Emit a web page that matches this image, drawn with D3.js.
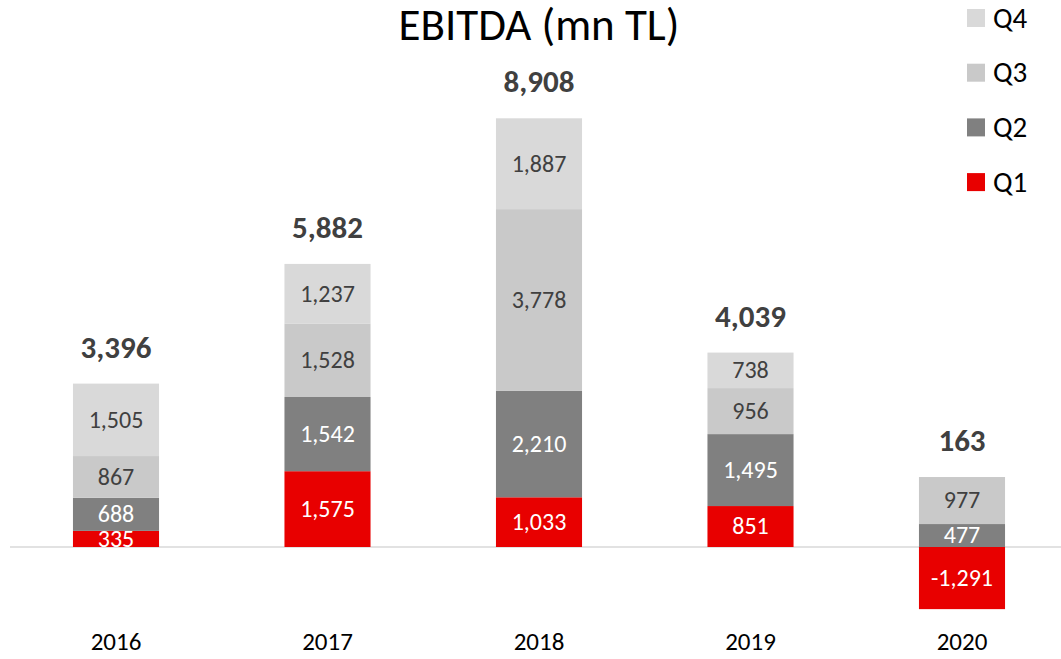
<!DOCTYPE html>
<html>
<head>
<meta charset="utf-8">
<script src="https://cdn.jsdelivr.net/npm/d3@7"></script>
<style>
  html, body { margin: 0; padding: 0; background: #fff; }
  svg { display: block; font-family: Carlito, Calibri, Lato, sans-serif; }
</style>
</head>
<body>
<svg id="chart" width="1061" height="659"></svg>
<script>
// Yearly EBITDA by quarter, million TL
const years = ["2016", "2017", "2018", "2019", "2020"];
const quarters = ["Q1", "Q2", "Q3", "Q4"];
const q1 = [335, 1575, 1033, 851, -1291];
const q2 = [688, 1542, 2210, 1495, 477];
const q3 = [867, 1528, 3778, 956, 977];
const q4 = [1505, 1237, 1887, 738, 0];
const totals = [3396, 5882, 8908, 4039, 163];
const colors = { Q1: "#e80000", Q2: "#808080", Q3: "#c9c9c9", Q4: "#d9d9d9" };
const labelColors = { Q1: "#ffffff", Q2: "#ffffff", Q3: "#404040", Q4: "#404040" };

const rows = years.map((y, i) => ({ year: y, Q1: q1[i], Q2: q2[i], Q3: q3[i], Q4: q4[i], total: totals[i] }));

const svg = d3.select("#chart");
const fmt = d3.format(",");

const x = d3.scaleBand()
  .domain(years)
  .range([10.25, 1067.75])
  .paddingInner(0.593)
  .paddingOuter(0.2965);

const y = d3.scaleLinear()
  .domain([0, 8908])
  .range([547, 118.3]);

const series = d3.stack()
  .keys(quarters)
  .offset(d3.stackOffsetDiverging)(rows);

// zero line
svg.append("line")
  .attr("x1", 10).attr("x2", 1061)
  .attr("y1", y(0)).attr("y2", y(0))
  .attr("stroke", "#d9d9d9")
  .attr("stroke-width", 1.5);

// stacked segments
const groups = svg.append("g").selectAll("g")
  .data(series)
  .join("g")
  .attr("fill", d => colors[d.key]);

groups.selectAll("rect")
  .data(d => d.filter(p => p.data[d.key] !== 0).map(p => ({ p, key: d.key })))
  .join("rect")
  .attr("x", d => x(d.p.data.year))
  .attr("width", x.bandwidth())
  .attr("y", d => y(Math.max(d.p[0], d.p[1])))
  .attr("height", d => Math.abs(y(d.p[0]) - y(d.p[1])));

// segment value labels
groups.selectAll("text")
  .data(d => d.filter(p => p.data[d.key] !== 0).map(p => ({ p, key: d.key })))
  .join("text")
  .attr("x", d => x(d.p.data.year) + x.bandwidth() / 2)
  .attr("y", d => (y(d.p[0]) + y(d.p[1])) / 2)
  .attr("dy", "0.33em")
  .attr("text-anchor", "middle")
  .attr("font-size", 24)
  .attr("fill", d => labelColors[d.key])
  .text(d => d3.format(",")(d.p.data[d.key]).replace("\u2212", "-"));

// year totals above each stack
const topOf = rows.map((r, i) => d3.max(series, s => s[i][1]));
svg.append("g").selectAll("text")
  .data(rows)
  .join("text")
  .attr("x", d => x(d.year) + x.bandwidth() / 2)
  .attr("y", (d, i) => y(topOf[i]) - 26)
  .attr("text-anchor", "middle")
  .attr("font-size", 31)
  .attr("font-weight", "bold")
  .attr("fill", "#404040")
  .text(d => fmt(d.total));

// category axis labels
svg.append("g").selectAll("text")
  .data(years)
  .join("text")
  .attr("x", d => x(d) + x.bandwidth() / 2)
  .attr("y", 650)
  .attr("text-anchor", "middle")
  .attr("font-size", 25)
  .attr("fill", "#000")
  .text(d => d);

// title
svg.append("text")
  .attr("x", 539)
  .attr("y", 40)
  .attr("text-anchor", "middle")
  .attr("font-size", 45)
  .attr("fill", "#000")
  .text("EBITDA (mn TL)");

// legend, Q4 on top
const legendKeys = quarters.slice().reverse();
const legend = svg.append("g").selectAll("g")
  .data(legendKeys)
  .join("g")
  .attr("transform", (d, i) => `translate(967, ${18 + i * 54.7})`);

legend.append("rect")
  .attr("x", 0).attr("y", -9)
  .attr("width", 18).attr("height", 18)
  .attr("fill", d => colors[d]);

legend.append("text")
  .attr("x", 26)
  .attr("y", 0)
  .attr("dy", "0.33em")
  .attr("font-size", 29)
  .attr("fill", "#000")
  .text(d => d);
</script>
</body>
</html>
